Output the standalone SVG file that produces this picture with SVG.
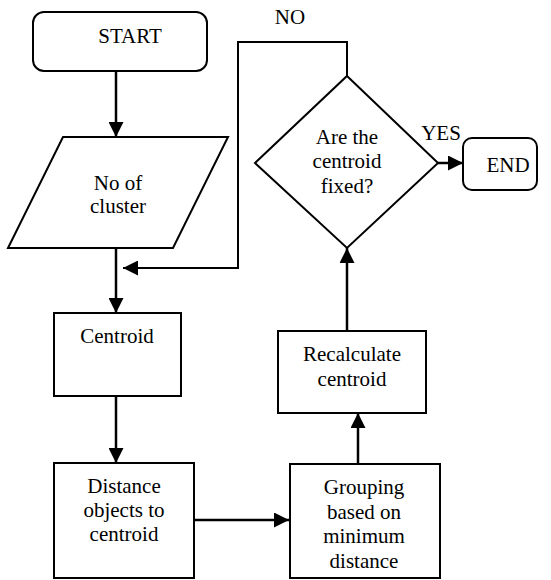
<svg xmlns="http://www.w3.org/2000/svg" width="551" height="580" viewBox="0 0 551 580">
<style>
.box{fill:#fff;stroke:#000;stroke-width:2}
.t{font-family:"Liberation Serif","Times New Roman",serif;font-size:21px;fill:#000;text-anchor:middle}
.c{fill:none;stroke:#000;stroke-width:2.5}
.ca{fill:none;stroke:#000;stroke-width:2.5;marker-end:url(#ah)}
</style>
<defs>
<marker id="ah" viewBox="0 0 15 15" refX="15" refY="7.5" markerWidth="15" markerHeight="15" markerUnits="userSpaceOnUse" orient="auto">
<path d="M0,0 L15,7.5 L0,15 z" fill="#000"/>
</marker>
</defs>
<rect width="551" height="580" fill="#fff"/>
<g id="connectors">
<path class="ca" d="M116,71 V137"/>
<path class="ca" d="M116,243 V313"/>
<path class="ca" d="M116,396 V463"/>
<path class="ca" d="M194,520 H289"/>
<path class="ca" d="M358,464 V413"/>
<path class="ca" d="M347,331 V248"/>
<path class="ca" d="M347,76 V42 H238 V268 H123" style="stroke-width:2"/>
<path class="ca" d="M438,163 H463"/>
<text class="t" x="290" y="24">NO</text>
<text class="t" x="441" y="140">YES</text>
</g>
<g id="start">
<rect class="box" x="33" y="12" width="174" height="59" rx="11"/>
<text class="t" x="130" y="43">START</text>
</g>
<g id="input">
<polygon class="box" points="63,137 228,137 173,248 8,248"/>
<text class="t" x="118" y="190">No of</text>
<text class="t" x="118" y="213">cluster</text>
</g>
<g id="centroid">
<rect class="box" x="54" y="313" width="127" height="83"/>
<text class="t" x="117" y="343">Centroid</text>
</g>
<g id="distance">
<rect class="box" x="54" y="463" width="140" height="115"/>
<text class="t" x="124" y="493">Distance</text>
<text class="t" x="124" y="517">objects to</text>
<text class="t" x="124" y="541">centroid</text>
</g>
<g id="grouping">
<rect class="box" x="290" y="464" width="150" height="114"/>
<text class="t" x="364" y="494">Grouping</text>
<text class="t" x="364" y="519">based on</text>
<text class="t" x="364" y="543">minimum</text>
<text class="t" x="364" y="568">distance</text>
</g>
<g id="recalculate">
<rect class="box" x="278" y="331" width="148" height="82"/>
<text class="t" x="352" y="361">Recalculate</text>
<text class="t" x="352" y="386">centroid</text>
</g>
<g id="decision">
<polygon class="box" points="347,76 438,163 347,248 255,163"/>
<text class="t" x="347" y="144">Are the</text>
<text class="t" x="347" y="168">centroid</text>
<text class="t" x="347" y="193">fixed?</text>
</g>
<g id="end">
<rect class="box" x="463" y="138" width="74" height="52" rx="9"/>
<text class="t" x="508" y="172">END</text>
</g>
</svg>
